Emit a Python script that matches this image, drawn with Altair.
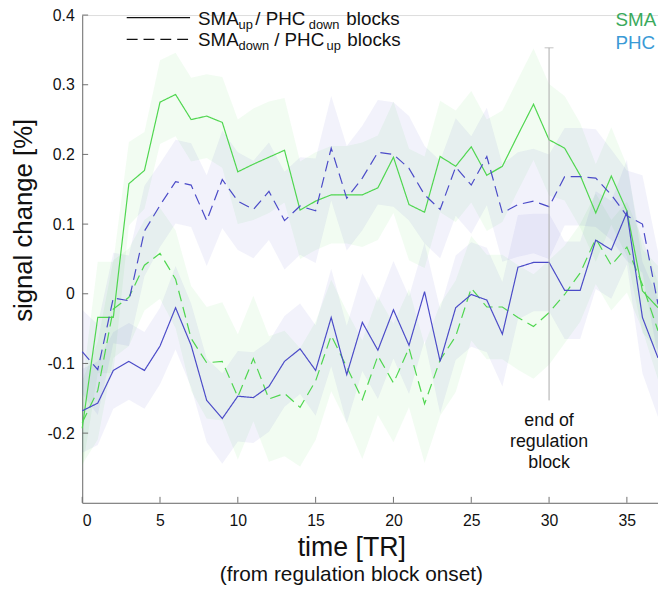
import altair as alt
import pandas as pd

# ---------------- data ----------------
t = list(range(38))

# SMA, SMA_up blocks (solid green)
sma_up = [-0.193, -0.034, -0.034, 0.158, 0.177, 0.275, 0.286, 0.250, 0.255, 0.246,
          0.175, 0.186, 0.196, 0.206, 0.120, 0.133, 0.142, 0.142, 0.142, 0.152,
          0.196, 0.128, 0.117, 0.197, 0.183, 0.211, 0.170, 0.183, 0.228, 0.272,
          0.221, 0.209, 0.170, 0.116, 0.169, 0.119, 0.004, -0.020]
sma_up_sem = [0.06, 0.08, 0.08, 0.06, 0.055, 0.06, 0.06, 0.06, 0.06, 0.065,
              0.075, 0.08, 0.08, 0.075, 0.07, 0.07, 0.07, 0.07, 0.075, 0.075,
              0.08, 0.08, 0.08, 0.08, 0.08, 0.08, 0.08, 0.08, 0.08, 0.08,
              0.08, 0.075, 0.075, 0.07, 0.07, 0.065, 0.06, 0.06]

# SMA, SMA_down blocks (dashed green)
sma_down = [-0.185, -0.139, -0.022, -0.005, 0.041, 0.058, 0.021, -0.064, -0.099, -0.097,
            -0.148, -0.093, -0.151, -0.143, -0.163, -0.125, -0.060, -0.105, -0.152, -0.089,
            -0.128, -0.078, -0.158, -0.095, -0.061, 0.008, -0.019, -0.019, -0.034, -0.047,
            -0.027, -0.001, 0.030, 0.079, 0.041, 0.067, 0.013, -0.053]
sma_down_sem = [0.06, 0.07, 0.07, 0.07, 0.065, 0.065, 0.07, 0.075, 0.08, 0.085,
                0.09, 0.09, 0.09, 0.09, 0.085, 0.085, 0.08, 0.08, 0.085, 0.085,
                0.085, 0.085, 0.085, 0.08, 0.08, 0.075, 0.075, 0.075, 0.075, 0.075,
                0.075, 0.07, 0.07, 0.065, 0.065, 0.065, 0.065, 0.07]

# PHC, PHC_down blocks (solid blue)
phc_down = [-0.168, -0.157, -0.110, -0.097, -0.110, -0.075, -0.020, -0.074, -0.153, -0.179,
            -0.147, -0.149, -0.133, -0.097, -0.079, -0.110, -0.034, -0.116, -0.041, -0.081,
            -0.023, -0.074, 0.003, -0.097, -0.020, -0.001, -0.009, -0.058, 0.038, 0.045,
            0.045, 0.005, 0.005, 0.077, 0.063, 0.117, -0.034, -0.092]
phc_down_sem = [0.06, 0.06, 0.055, 0.055, 0.055, 0.055, 0.06, 0.06, 0.06, 0.065,
                0.065, 0.065, 0.065, 0.065, 0.065, 0.065, 0.07, 0.07, 0.07, 0.07,
                0.07, 0.07, 0.07, 0.075, 0.075, 0.075, 0.075, 0.075, 0.075, 0.07,
                0.07, 0.07, 0.07, 0.07, 0.07, 0.075, 0.08, 0.085]

# PHC, PHC_up blocks (dashed blue)
phc_up = [-0.083, -0.109, -0.006, -0.010, 0.090, 0.127, 0.161, 0.156, 0.105, 0.164,
          0.133, 0.121, 0.147, 0.105, 0.126, 0.119, 0.209, 0.137, 0.166, 0.203,
          0.200, 0.180, 0.142, 0.121, 0.182, 0.156, 0.197, 0.116, 0.128, 0.133,
          0.125, 0.168, 0.168, 0.166, 0.142, 0.112, 0.100, -0.015]
phc_up_sem = [0.06, 0.065, 0.065, 0.065, 0.065, 0.06, 0.06, 0.06, 0.065, 0.07,
              0.07, 0.07, 0.07, 0.07, 0.07, 0.075, 0.075, 0.075, 0.075, 0.075,
              0.075, 0.075, 0.07, 0.07, 0.07, 0.07, 0.07, 0.07, 0.075, 0.075,
              0.075, 0.07, 0.07, 0.07, 0.065, 0.065, 0.07, 0.075]

x_ticks = [0, 5, 10, 15, 20, 25, 30, 35]
y_ticks = [-0.2, -0.1, 0.0, 0.1, 0.2, 0.3, 0.4]
end_t = 30
end_top = 0.353
end_bottom = -0.153
end_text = "end of\nregulation\nblock"
x_title = "time [TR]"
x_subtitle = "(from regulation block onset)"
y_title = "signal change [%]"

# ---------------- styling ----------------
FONT = "Liberation Sans"
GREEN = "#4fd64f"
BLUE = "#4b4bc8"
AX = "#707070"
W, H = 582, 493

rows = []
for region, cond, vals, sems in [("SMA", "solid", sma_up, sma_up_sem),
                                 ("SMA", "dashed", sma_down, sma_down_sem),
                                 ("PHC", "solid", phc_down, phc_down_sem),
                                 ("PHC", "dashed", phc_up, phc_up_sem)]:
    for ti, v, s in zip(t, vals, sems):
        rows.append({"t": ti, "value": v, "lo": v - s, "hi": v + s,
                     "region": region, "cond": cond, "series": region + cond})
df = pd.DataFrame(rows)

xscale = alt.Scale(domain=[0, 37], nice=False, zero=False)
yscale = alt.Scale(domain=[-0.3, 0.4], nice=False, zero=False)
xaxis = alt.Axis(values=x_ticks, format="d", grid=False, tickSize=0, labelPadding=10,
                 labelFontSize=16, labelColor="#111", domainColor=AX,
                 title=x_title,
                 titleFontSize=27, titleFontWeight="normal", titleColor="#111",
                 titleX=272, titleY=45, titleBaseline="middle",
                 titleAnchor="start", titleAlign="center")
yaxis = alt.Axis(values=y_ticks, grid=False, tickSize=0, labelPadding=8,
                 labelFontSize=16, labelColor="#111", domainColor=AX,
                 labelExpr="datum.value == 0 ? '0' : (datum.value < 0 ? '-' + format(-datum.value, '.1f') : format(datum.value, '.1f'))",
                 title=y_title, titleFontSize=26, titleFontWeight="normal",
                 titleColor="#111", titleX=-59, titleY=207, titleAngle=-90,
                 titleAlign="center", titleBaseline="middle", titleAnchor="start")

color = alt.Color("region:N", scale=alt.Scale(domain=["SMA", "PHC"], range=[GREEN, BLUE]), legend=None)

base = alt.Chart(df)
bands = base.mark_area(opacity=0.075, interpolate="linear").encode(
    x=alt.X("t:Q", scale=xscale, axis=xaxis),
    y=alt.Y("lo:Q", scale=yscale, axis=yaxis, stack=None),
    y2="hi:Q",
    color=color,
    detail="series:N",
)
lines = base.mark_line(strokeWidth=1.2).encode(
    x=alt.X("t:Q", scale=xscale, axis=xaxis),
    y=alt.Y("value:Q", scale=yscale, axis=yaxis),
    color=color,
    strokeDash=alt.StrokeDash("cond:N", scale=alt.Scale(domain=["solid", "dashed"],
                                                        range=[[1, 0], [11, 6]]), legend=None),
    detail="series:N",
)

xt = alt.Chart(pd.DataFrame({"t": x_ticks})).mark_rule(color=AX, strokeWidth=1).encode(
    x=alt.X("t:Q", scale=xscale, axis=xaxis), y=alt.value(H), y2=alt.value(H - 6))
yt = alt.Chart(pd.DataFrame({"value": y_ticks})).mark_rule(color=AX, strokeWidth=1).encode(
    y=alt.Y("value:Q", scale=yscale, axis=yaxis), x=alt.value(0), x2=alt.value(6))

vdf = pd.DataFrame({"t": [end_t], "top": [end_top], "bottom": [end_bottom]})
vline = alt.Chart(vdf).mark_rule(color="#aaaaaa", strokeWidth=1).encode(
    x=alt.X("t:Q", scale=xscale, axis=xaxis),
    y=alt.Y("top:Q", scale=yscale, axis=yaxis), y2="bottom:Q")
vcap = alt.Chart(vdf).mark_tick(color="#aaaaaa", thickness=1, size=9, orient="horizontal").encode(
    x=alt.X("t:Q", scale=xscale, axis=xaxis),
    y=alt.Y("top:Q", scale=yscale, axis=yaxis))
vtext = alt.Chart(vdf).mark_text(lineBreak="\n", align="center", baseline="top",
                                 fontSize=18, lineHeight=21.5, font=FONT, color="#111").encode(
    x=alt.X("t:Q", scale=xscale, axis=xaxis), y=alt.value(401), text=alt.value(end_text))

def label(txt, x, y, size, col="#111", baseline="alphabetic", align="left"):
    return alt.Chart(vdf).mark_text(align=align, baseline=baseline, fontSize=size,
                                    font=FONT, color=col).encode(
        x=alt.value(x), y=alt.value(y), text=alt.value(txt))

subtitle = label(x_subtitle, 272, 566, 21, baseline="middle", align="center")

region_labels = [label("SMA", 539, 5, 19, "#3aaa5c", "middle"),
                 label("PHC", 539, 28, 19, "#3a9ad6", "middle")]

leg_solid = alt.Chart(vdf).mark_rule(color="#111", strokeWidth=1.3).encode(
    x=alt.value(45), x2=alt.value(109), y=alt.value(2.5))
leg_dash = alt.Chart(vdf).mark_rule(color="#111", strokeWidth=1.3, strokeDash=[11, 6]).encode(
    x=alt.value(45), x2=alt.value(109), y=alt.value(24.5))
legend_text = [
    label("SMA", 117, 10, 19), label("up", 158, 14, 13),
    label("/ PHC", 175, 10, 19), label("down", 229, 14, 13),
    label("blocks", 267, 10, 19),
    label("SMA", 117, 31.5, 19), label("down", 158, 35.5, 13),
    label("/ PHC", 194, 31.5, 19), label("up", 247, 35.5, 13),
    label("blocks", 268, 31.5, 19),
]

chart = alt.layer(bands, lines, xt, yt, vline, vcap, vtext, leg_solid, leg_dash, subtitle,
                  *region_labels, *legend_text).properties(
    width=W, height=H,
    autosize=alt.AutoSizeParams(type="none"),
    padding={"left": 75, "top": 4, "right": 0, "bottom": 86},
).configure_view(stroke=None).configure(font=FONT)

chart.save("out.html", embed_options={"renderer": "svg", "actions": False})
